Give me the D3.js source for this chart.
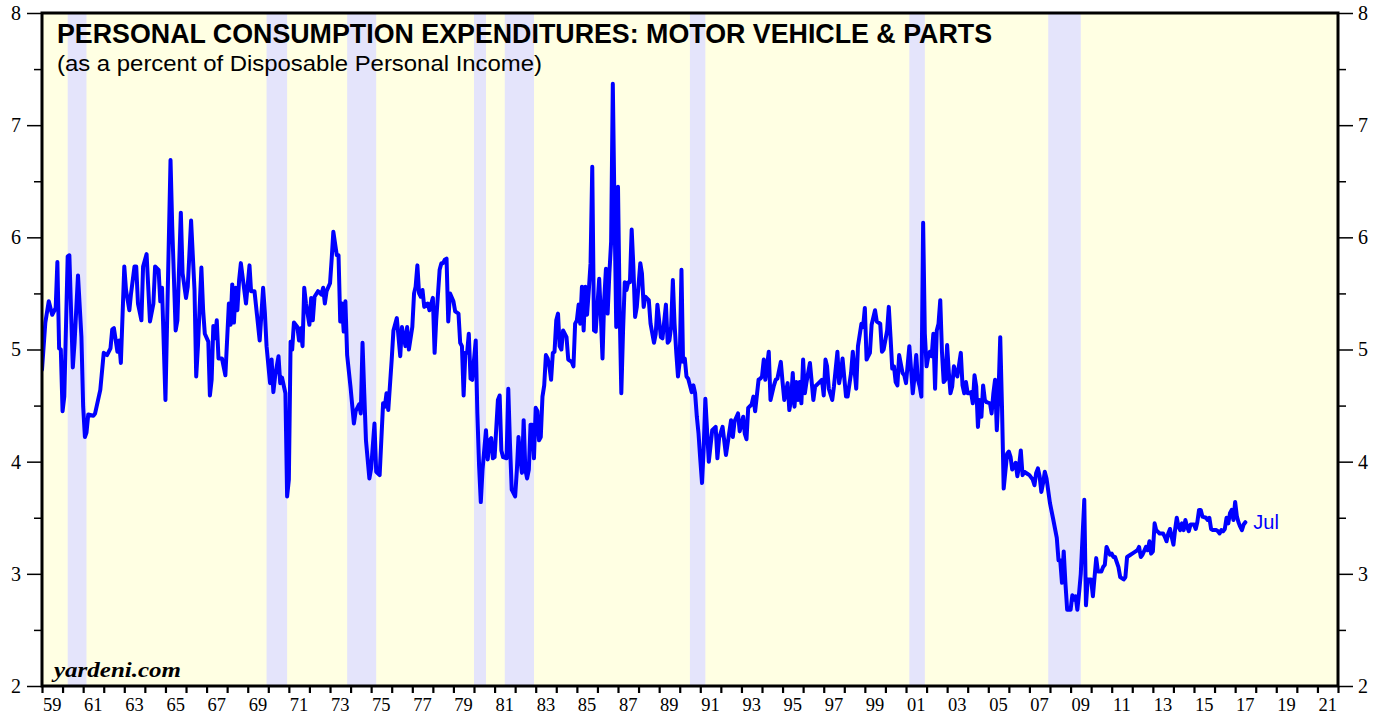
<!DOCTYPE html>
<html><head><meta charset="utf-8">
<script src="https://cdn.jsdelivr.net/npm/d3@7"></script>
<style>body{margin:0;background:#fff}svg{display:block}</style>
</head><body><svg id="chart" width="1384" height="719"></svg>
<script>
// ---------------- DATA ----------------
const months = [
"1959-01","1959-03","1959-05","1959-07","1959-09","1959-10","1959-11","1959-12",
"1960-01","1960-02","1960-04","1960-05","1960-07","1960-08","1960-10","1960-12",
"1961-01","1961-02","1961-03","1961-04","1961-07","1961-08","1961-11",
"1962-01","1962-03","1962-05","1962-06","1962-07","1962-09","1962-10","1962-11",
"1963-01","1963-02","1963-04","1963-05","1963-07","1963-08","1963-09","1963-11","1963-12",
"1964-02","1964-04","1964-06","1964-07","1964-09","1964-10","1964-11",
"1965-01","1965-04","1965-05","1965-07","1965-08","1965-10","1965-11",
"1966-01","1966-02","1966-04","1966-06","1966-07","1966-08","1966-10","1966-11","1966-12",
"1967-02","1967-03","1967-04","1967-05","1967-06","1967-07","1967-08","1967-10","1967-12",
"1968-02","1968-03","1968-04","1968-05","1968-06","1968-07","1968-08","1968-09","1968-10","1968-12",
"1969-02","1969-03","1969-05","1969-08","1969-10","1969-11","1969-12",
"1970-02","1970-03","1970-04","1970-05","1970-07","1970-08","1970-09","1970-11","1970-12",
"1971-01","1971-02","1971-03","1971-04","1971-06","1971-07","1971-08","1971-09","1971-10","1971-11",
"1972-01","1972-02","1972-03","1972-04","1972-06","1972-08","1972-09","1972-10","1972-11",
"1973-01","1973-02","1973-03","1973-05","1973-06","1973-07","1973-08","1973-09","1973-10","1973-11",
"1974-01","1974-03","1974-04","1974-06","1974-07","1974-08","1974-09","1974-10","1974-12",
"1975-01","1975-03","1975-04","1975-06","1975-08","1975-09","1975-10","1975-11",
"1976-01","1976-02","1976-04","1976-06","1976-07","1976-09","1976-10","1976-11",
"1977-01","1977-02","1977-03","1977-04","1977-05","1977-06","1977-07","1977-08","1977-10","1977-11",
"1978-01","1978-02","1978-03","1978-05","1978-06","1978-07","1978-08","1978-09","1978-10","1978-11",
"1979-01","1979-02","1979-04","1979-05","1979-06","1979-07","1979-08","1979-09","1979-10","1979-11","1979-12",
"1980-02","1980-03","1980-04","1980-05","1980-06","1980-08","1980-09","1980-10","1980-11","1980-12",
"1981-01","1981-03","1981-04","1981-05","1981-06","1981-08","1981-09","1981-10","1981-11",
"1982-01","1982-02","1982-03","1982-04","1982-05","1982-06","1982-07","1982-08","1982-09","1982-10","1982-11","1982-12",
"1983-01","1983-02","1983-03","1983-04","1983-05","1983-06","1983-07","1983-08","1983-09","1983-10","1983-11","1983-12",
"1984-01","1984-02","1984-03","1984-04","1984-05","1984-07","1984-08","1984-10","1984-11","1984-12",
"1985-01","1985-02","1985-03","1985-04","1985-05","1985-06","1985-07","1985-08","1985-09","1985-10","1985-11","1985-12",
"1986-02","1986-03","1986-04","1986-05","1986-06","1986-07","1986-08","1986-09","1986-10","1986-11","1986-12",
"1987-01","1987-02","1987-03","1987-04","1987-05","1987-06","1987-07","1987-08","1987-09","1987-10","1987-11","1987-12",
"1988-02","1988-03","1988-04","1988-05","1988-07","1988-08","1988-10","1988-11","1988-12",
"1989-02","1989-03","1989-05","1989-06","1989-07","1989-08","1989-09","1989-10","1989-11","1989-12",
"1990-01","1990-02","1990-03","1990-04","1990-05","1990-06","1990-08","1990-09","1990-10","1990-11","1990-12",
"1991-01","1991-02","1991-03","1991-04","1991-06","1991-08","1991-10","1991-11","1991-12",
"1992-02","1992-04","1992-07","1992-08","1992-09","1992-11","1992-12",
"1993-02","1993-03","1993-04","1993-05","1993-07","1993-08","1993-09","1993-11","1993-12",
"1994-01","1994-02","1994-03","1994-05","1994-06","1994-08","1994-09","1994-10","1994-12",
"1995-01","1995-02","1995-04","1995-05","1995-06","1995-07","1995-08","1995-09","1995-10","1995-11","1995-12",
"1996-01","1996-02","1996-03","1996-05","1996-07","1996-08","1996-10","1996-12",
"1997-01","1997-02","1997-03","1997-04","1997-06","1997-07","1997-09","1997-10","1997-11","1997-12",
"1998-02","1998-03","1998-05","1998-06","1998-08","1998-09","1998-11","1998-12",
"1999-01","1999-02","1999-03","1999-04","1999-05","1999-07","1999-08","1999-10","1999-11","1999-12",
"2000-02","2000-03","2000-04","2000-05","2000-06","2000-07","2000-08","2000-09","2000-11","2000-12",
"2001-01","2001-03","2001-04","2001-05","2001-06","2001-07","2001-08","2001-09","2001-10","2001-11","2001-12",
"2002-01","2002-02","2002-03","2002-04","2002-05","2002-06","2002-07","2002-08","2002-09","2002-10","2002-11","2002-12",
"2003-01","2003-02","2003-03","2003-04","2003-05","2003-06","2003-07","2003-09","2003-10","2003-11","2003-12",
"2004-01","2004-02","2004-03","2004-04","2004-05","2004-06","2004-07","2004-08","2004-09","2004-10","2004-11","2004-12",
"2005-02","2005-03","2005-04","2005-05","2005-06","2005-07","2005-08","2005-09","2005-10","2005-12",
"2006-01","2006-02","2006-03","2006-05","2006-06","2006-07","2006-08","2006-09","2006-10","2006-12",
"2007-01","2007-03","2007-04","2007-05","2007-06","2007-07","2007-08","2007-09","2007-10","2007-11",
"2008-01","2008-03","2008-05","2008-06","2008-07","2008-08","2008-09","2008-10","2008-11",
"2009-01","2009-02","2009-03","2009-04","2009-05","2009-06","2009-07","2009-09","2009-10","2009-11","2009-12",
"2010-01","2010-02","2010-04","2010-05","2010-07","2010-08","2010-09","2010-10","2010-12",
"2011-01","2011-02","2011-03","2011-05","2011-06","2011-08","2011-09","2011-10","2011-12",
"2012-01","2012-03","2012-04","2012-05","2012-06","2012-07","2012-09","2012-10","2012-11","2012-12",
"2013-01","2013-02","2013-03","2013-05","2013-06","2013-07","2013-08","2013-09","2013-10","2013-11","2013-12",
"2014-01","2014-02","2014-03","2014-04","2014-05","2014-06","2014-07","2014-08","2014-09","2014-10","2014-11",
"2015-01","2015-02","2015-03","2015-04","2015-05","2015-06","2015-08","2015-09","2015-10","2015-11","2015-12",
"2016-02","2016-03","2016-04","2016-05","2016-06","2016-07","2016-08","2016-09","2016-10","2016-11","2016-12",
"2017-01","2017-02","2017-03","2017-04","2017-05","2017-06","2017-07"
];

const values = [
4.82,5.24,5.43,5.31,5.37,5.78,5.01,5.00,
4.45,4.58,5.83,5.84,4.84,5.06,5.66,5.11,
4.49,4.22,4.26,4.42,4.41,4.43,4.64,
4.97,4.95,5.01,5.18,5.19,4.98,5.08,4.88,
5.74,5.53,5.35,5.50,5.74,5.74,5.41,5.26,5.74,
5.85,5.25,5.41,5.74,5.71,5.43,5.55,
4.55,6.69,6.10,5.17,5.26,6.22,5.68,
5.46,5.56,6.15,5.53,4.76,5.03,5.73,5.35,5.14,
5.07,4.59,4.73,5.21,5.10,5.26,4.92,4.92,4.77,
5.41,5.22,5.58,5.24,5.55,5.35,5.62,5.77,5.65,5.41,
5.75,5.52,5.52,5.08,5.55,5.33,5.03,
4.70,4.91,4.62,4.76,4.94,4.70,4.75,4.61,3.69,
3.84,5.07,5.00,5.24,5.20,5.08,5.19,5.03,5.55,5.41,
5.22,5.46,5.26,5.47,5.52,5.49,5.55,5.41,5.52,
5.59,5.82,6.05,5.84,5.84,5.25,5.41,5.16,5.43,4.95,
4.66,4.34,4.45,4.51,4.43,5.06,4.61,4.19,3.85,
3.94,4.34,3.91,3.88,4.52,4.49,4.61,4.46,
4.91,5.17,5.28,4.94,5.20,5.03,5.20,5.00,
5.20,5.50,5.56,5.75,5.50,5.47,5.53,5.38,5.41,5.35,
5.46,4.97,5.26,5.71,5.77,5.77,5.80,5.81,5.25,5.50,
5.43,5.34,5.32,5.06,5.03,4.59,4.97,4.97,5.14,4.74,4.73,
5.08,4.43,3.96,3.64,3.93,4.28,4.02,4.19,4.21,4.03,
4.04,4.55,4.59,4.10,4.04,4.03,4.65,4.16,3.75,
3.69,3.93,4.22,4.04,3.90,4.37,3.93,3.85,3.93,4.33,4.33,4.03,
4.48,4.45,4.19,4.22,4.58,4.68,4.95,4.92,4.85,4.73,4.97,4.98,
5.26,5.32,5.03,5.00,5.17,5.11,4.91,4.89,4.85,5.23,
5.26,5.40,5.23,5.56,5.17,5.56,5.31,5.53,5.77,6.63,5.17,5.16,
5.63,5.32,4.92,5.44,5.72,5.32,5.68,5.96,7.37,6.21,5.20,
6.45,5.32,4.61,5.17,5.60,5.53,5.60,5.60,6.07,5.74,5.29,5.38,
5.77,5.68,5.38,5.47,5.44,5.23,5.06,5.14,5.40,
5.11,5.10,5.40,5.06,5.08,5.20,5.62,5.23,4.97,4.76,
4.89,5.71,4.89,4.92,4.76,4.74,4.62,4.68,4.61,4.40,4.25,
4.02,3.81,4.10,4.56,4.00,4.28,4.31,4.03,4.21,
4.31,4.06,4.37,4.22,4.36,4.43,4.27,
4.40,4.25,4.20,4.48,4.51,4.58,4.45,4.73,4.74,
4.76,4.91,4.73,4.98,4.55,4.68,4.73,4.74,4.89,
4.71,4.55,4.70,4.46,4.55,4.79,4.49,4.71,4.55,4.71,4.52,
4.91,4.61,4.71,4.88,4.55,4.67,4.70,4.73,
4.59,4.91,4.85,4.65,4.55,4.67,4.98,4.70,4.79,4.92,
4.58,4.58,4.79,4.98,4.65,5.03,5.23,5.20,
5.37,4.91,4.94,4.97,5.22,5.35,5.25,5.23,4.98,5.00,
5.17,5.38,5.11,4.83,4.85,4.71,4.68,4.95,4.79,4.77,
4.70,5.03,4.82,4.61,4.76,4.95,4.73,4.67,4.58,6.13,5.14,
4.85,4.94,4.98,4.94,5.14,4.65,5.17,5.23,5.44,4.98,4.71,4.73,
5.04,4.79,4.61,4.67,4.85,4.79,4.76,4.97,4.68,4.61,4.71,
4.61,4.61,4.62,4.52,4.77,4.67,4.31,4.55,4.40,4.68,4.55,4.53,
4.52,4.43,4.61,4.73,4.28,4.61,5.11,4.49,3.76,4.07,
4.09,4.04,3.93,3.99,3.87,3.96,4.10,3.88,3.91,3.89,
3.88,3.84,3.79,3.90,3.94,3.87,3.73,3.81,3.91,3.85,
3.63,3.48,3.32,3.12,3.12,2.92,3.20,2.92,2.68,
2.68,2.81,2.77,2.80,2.68,2.83,3.00,3.66,2.72,2.95,2.95,
2.95,2.80,3.14,3.02,3.02,3.06,3.08,3.24,3.17,
3.18,3.15,3.15,3.06,2.97,2.95,2.97,3.15,3.17,
3.18,3.20,3.21,3.24,3.15,3.17,3.24,3.21,3.29,3.18,
3.20,3.45,3.39,3.36,3.36,3.36,3.33,3.29,3.36,3.40,3.33,
3.26,3.40,3.50,3.42,3.39,3.45,3.39,3.48,3.42,3.38,3.44,
3.44,3.40,3.46,3.57,3.57,3.51,3.50,3.48,3.50,3.40,3.39,
3.39,3.38,3.36,3.39,3.38,3.40,3.50,3.45,3.54,3.57,3.48,
3.64,3.51,3.46,3.42,3.39,3.44,3.46
];

// NBER recessions: first month of recession, first month after its trough
const recessionStarts = ["1960-04","1969-12","1973-11","1980-01","1981-07","1990-07","2001-03","2007-12"];
const recessionEnds   = ["1961-03","1970-12","1975-04","1980-08","1982-12","1991-04","2001-12","2009-07"];

const yTicks = [2, 3, 4, 5, 6, 7, 8];
const yMinorTicks = [2.5, 3.5, 4.5, 5.5, 6.5, 7.5];
const xLabelYears = [1959,1961,1963,1965,1967,1969,1971,1973,1975,1977,1979,1981,1983,1985,1987,1989,
                     1991,1993,1995,1997,1999,2001,2003,2005,2007,2009,2011,2013,2015,2017,2019,2021];
const xDomainYears = [1959, 2022];
const yDomain = [2, 8];

const titleText = "PERSONAL CONSUMPTION EXPENDITURES: MOTOR VEHICLE & PARTS";
const subtitleText = "(as a percent of Disposable Personal Income)";
const sourceText = "yardeni.com";
const lastLabel = "Jul";

// ---------------- CHART ----------------
if (months.length !== values.length) console.error("length mismatch", months.length, values.length);

const parse = d3.timeParse("%Y-%m");
const data = months.map((m, i) => ({ date: parse(m), v: values[i] }));
const rec = recessionStarts.map((s, i) => ({ s: parse(s), e: parse(recessionEnds[i]) }));

const P = { left: 42, right: 1338, top: 13, bottom: 686 };
const svg = d3.select("#chart");

const x = d3.scaleTime()
  .domain([new Date(xDomainYears[0], 0, 1), new Date(xDomainYears[1], 0, 1)])
  .range([P.left, P.right]);
const y = d3.scaleLinear().domain(yDomain).range([P.bottom, P.top]);

// background
svg.append("rect").attr("x", P.left).attr("y", P.top)
  .attr("width", P.right - P.left).attr("height", P.bottom - P.top)
  .attr("fill", "#ffffe3");

// recession bands
svg.append("g").selectAll("rect").data(rec).join("rect")
  .attr("x", d => x(d.s)).attr("width", d => x(d.e) - x(d.s))
  .attr("y", P.top).attr("height", P.bottom - P.top)
  .attr("fill", "#e4e4fb");

// clip
svg.append("clipPath").attr("id", "plotclip").append("rect")
  .attr("x", P.left).attr("y", P.top).attr("width", P.right - P.left).attr("height", P.bottom - P.top);

// titles
svg.append("text").attr("x", 57).attr("y", 42.5)
  .attr("font-family", "'Liberation Sans', Arial, Helvetica, sans-serif")
  .attr("font-weight", "bold").attr("font-size", 26.8).attr("fill", "#000")
  .text(titleText);
svg.append("text").attr("x", 57).attr("y", 70.5)
  .attr("font-family", "'Liberation Sans', Arial, Helvetica, sans-serif")
  .attr("font-size", 21.5).attr("fill", "#000")
  .attr("textLength", 485).attr("lengthAdjust", "spacingAndGlyphs")
  .text(subtitleText);

svg.append("text").attr("x", 54).attr("y", 677)
  .attr("font-family", "'Liberation Serif', 'Times New Roman', serif")
  .attr("font-weight", "bold").attr("font-style", "italic")
  .attr("font-size", 21).attr("fill", "#000")
  .attr("textLength", 127).attr("lengthAdjust", "spacingAndGlyphs")
  .text(sourceText);

// line
const line = d3.line().x(d => x(d.date)).y(d => y(d.v)).curve(d3.curveLinear);
svg.append("path").datum(data)
  .attr("clip-path", "url(#plotclip)")
  .attr("fill", "none").attr("stroke", "#0000ff")
  .attr("stroke-width", 4).attr("stroke-linejoin", "round").attr("stroke-linecap", "round")
  .attr("d", line);

// last label
const last = data[data.length - 1];
svg.append("text").attr("x", x(last.date) + 8).attr("y", y(last.v) + 7)
  .attr("font-family", "'Liberation Sans', Arial, Helvetica, sans-serif")
  .attr("font-size", 20).attr("fill", "#0000ff")
  .text(lastLabel);

// axes
const serif = "'Liberation Serif', 'Times New Roman', serif";
function styleAxis(g, w) {
  g.select(".domain").remove();
  g.selectAll(".tick line").attr("stroke", "#000").attr("stroke-width", w);
  g.selectAll(".tick text").attr("font-family", serif).attr("fill", "#000");
}
const gl = svg.append("g").attr("transform", `translate(${P.left},0)`)
  .call(d3.axisLeft(y).tickValues(yTicks).tickSize(15).tickPadding(6).tickFormat(d3.format("d")));
styleAxis(gl, 1.5); gl.selectAll(".tick text").attr("font-size", 20);
const glm = svg.append("g").attr("transform", `translate(${P.left},0)`)
  .call(d3.axisLeft(y).tickValues(yMinorTicks).tickSize(8).tickFormat(""));
styleAxis(glm, 1.5);

const gr = svg.append("g").attr("transform", `translate(${P.right},0)`)
  .call(d3.axisRight(y).tickValues(yTicks).tickSize(15).tickPadding(5).tickFormat(d3.format("d")));
styleAxis(gr, 1.5); gr.selectAll(".tick text").attr("font-size", 20);
const grm = svg.append("g").attr("transform", `translate(${P.right},0)`)
  .call(d3.axisRight(y).tickValues(yMinorTicks).tickSize(8).tickFormat(""));
styleAxis(grm, 1.5);

const gb = svg.append("g").attr("transform", `translate(0,${P.bottom})`)
  .call(d3.axisBottom(x).ticks(d3.timeYear.every(1)).tickSize(7).tickFormat(""));
styleAxis(gb, 2.2);

const fmtY = d3.timeFormat("%y");
svg.append("g").selectAll("text").data(xLabelYears).join("text")
  .attr("x", d => x(new Date(d, 6, 1)))
  .attr("y", 711)
  .attr("text-anchor", "middle")
  .attr("font-family", serif).attr("font-size", 18.5).attr("fill", "#000")
  .text(d => fmtY(new Date(d, 0, 1)));

// frame
svg.append("rect").attr("x", P.left).attr("y", P.top)
  .attr("width", P.right - P.left).attr("height", P.bottom - P.top)
  .attr("fill", "none").attr("stroke", "#000").attr("stroke-width", 3);
</script>
</body></html>
